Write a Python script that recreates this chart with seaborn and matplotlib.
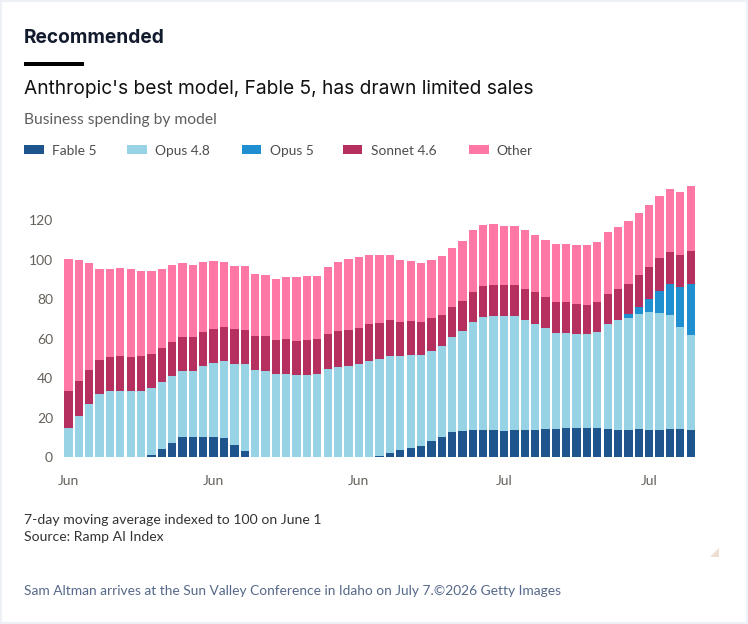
import numpy as np
import pandas as pd
import matplotlib
matplotlib.use("Agg")
import matplotlib.pyplot as plt
import seaborn as sns
from matplotlib.patches import Rectangle, Polygon

# ---------------- data ----------------
days = pd.date_range("2026-06-01", periods=61, freq="D")

fable5 = [0, 0, 0, 0, 0, 0, 0, 0, 0.8, 3.9,
          6.9, 10.0, 10.1, 10.1, 10.1, 9.5, 6.3, 3.2, 0, 0,
          0, 0, 0, 0, 0, 0, 0, 0, 0, 0,
          0.3, 2.0, 3.5, 4.7, 5.6, 7.9, 10.3, 12.7, 13.4, 13.9,
          13.9, 13.9, 13.4, 13.5, 13.5, 13.9, 14.0, 14.4, 14.5, 14.7,
          14.7, 14.5, 14.0, 13.9, 13.9, 14.2, 13.9, 13.9, 14.0, 14.0,
          13.9]
opus48 = [14.9, 20.8, 27.0, 31.9, 33.6, 33.6, 33.3, 33.6, 34.2, 34.0,
          34.0, 33.8, 33.7, 36.2, 37.6, 39.2, 41.0, 43.8, 44.1, 43.8,
          42.1, 42.3, 41.4, 41.6, 42.3, 44.4, 45.8, 46.1, 47.2, 48.8,
          49.4, 49.2, 47.7, 47.0, 46.1, 46.0, 46.1, 48.0, 50.5, 54.4,
          56.9, 57.4, 57.9, 58.2, 55.8, 53.7, 51.4, 48.3, 48.2, 47.7,
          47.5, 48.7, 53.3, 55.4, 56.7, 58.5, 59.4, 59.3, 58.2, 51.9,
          48.0]
opus5 = [0] * 54 + [1.7, 3.5, 7.0, 11.1, 15.7, 20.3, 26.0]
sonnet46 = [18.4, 17.7, 17.3, 17.1, 17.3, 17.6, 17.2, 17.4, 17.4, 17.4,
            17.4, 17.2, 17.2, 17.1, 17.2, 17.0, 17.4, 17.4, 17.4, 17.5,
            17.4, 17.5, 17.6, 17.7, 17.5, 18.1, 17.9, 18.1, 18.2, 18.5,
            18.4, 18.1, 17.2, 17.1, 16.7, 16.4, 15.8, 15.2, 15.2, 15.5,
            15.7, 15.7, 15.7, 15.7, 16.0, 16.1, 15.7, 15.7, 15.7, 15.2,
            15.0, 15.6, 15.3, 15.7, 15.6, 15.9, 16.2, 16.4, 16.0, 16.2,
            16.4]
other = [67.1, 61.2, 53.9, 46.5, 44.6, 44.6, 45.0, 43.5, 42.1, 40.2,
         38.9, 37.4, 36.3, 35.5, 34.5, 33.0, 32.3, 32.6, 31.5, 30.8,
         30.9, 31.3, 32.1, 32.5, 32.1, 33.7, 35.2, 36.2, 36.2, 35.3,
         34.2, 33.3, 31.6, 30.4, 29.8, 29.7, 29.9, 30.2, 30.4, 31.1,
         31.0, 31.0, 29.9, 29.5, 29.6, 29.0, 28.8, 29.4, 29.4, 29.7,
         30.1, 30.2, 31.6, 31.6, 31.6, 31.6, 31.4, 31.6, 32.1, 32.1,
         32.9]

series_names = ["Fable 5", "Opus 4.8", "Opus 5", "Sonnet 4.6", "Other"]
series_colors = ["#1f558d", "#97d3e5", "#1f8fd0", "#b5305e", "#ff77a5"]
y_ticks = [0, 20, 40, 60, 80, 100, 120]
tick_every = 14

# ---------------- figure ----------------
sns.set_theme(style="white")
plt.rcParams["font.family"] = ["Lato", "DejaVu Sans"]

W, H = 748, 624
fig = plt.figure(figsize=(W / 100, H / 100), dpi=100)
fig.patch.set_facecolor("#edf1f6")
fig.add_artist(Rectangle((2 / W, 2 / H), 744 / W, 620 / H, transform=fig.transFigure,
                         facecolor="white", edgecolor="none", zorder=0))

def fx(x):
    return x / W

def fy(y):
    return 1 - y / H

ax = fig.add_axes([fx(60), fy(457), 640 / W, (457 - 180.9) / H])
ax.set_facecolor("none")

stack = np.vstack([fable5, opus48, opus5, sonnet46, other])
cum = stack.cumsum(axis=0)
df = pd.DataFrame({"day": np.arange(len(days))})
for i, name in enumerate(series_names):
    df[name] = cum[i]

for i in reversed(range(len(series_names))):
    sns.barplot(data=df, x="day", y=series_names[i], color=series_colors[i],
                saturation=1, width=0.8, linewidth=0, errorbar=None, ax=ax)

ax.set_xlim(-0.815, 60.9)
ax.set_ylim(0, 140)
ax.set_yticks(y_ticks)
ax.set_yticklabels([str(v) for v in y_ticks])
tick_pos = list(range(0, len(days), tick_every))
ax.set_xticks(tick_pos)
ax.set_xticklabels([days[i].strftime("%b") for i in tick_pos])
ax.tick_params(length=0, labelsize=10, labelcolor="#66605a")
ax.tick_params(axis="y", pad=5)
ax.tick_params(axis="x", pad=13)
for s in ax.spines.values():
    s.set_visible(False)
ax.set_xlabel("")
ax.set_ylabel("")
ax.grid(False)

renderer = fig.canvas.get_renderer()

def T(x, y, s, size, target_w=None, **kw):
    t = fig.text(fx(x), fy(y), s, fontsize=size, va="baseline", ha="left", **kw)
    if target_w:
        w = t.get_window_extent(renderer).width
        t.set_fontsize(size * target_w / w)
    return t

T(24, 43.3, "Recommended", 15, 141, family=["Inter", "DejaVu Sans"],
  fontweight="bold", color="#121a2d")
fig.add_artist(Rectangle((fx(24), fy(65.5)), 60 / W, 3.5 / H, transform=fig.transFigure,
                         facecolor="black", edgecolor="none"))
T(24, 94, "Anthropic's best model, Fable 5, has drawn limited sales", 14, 510,
  family=["Inter", "DejaVu Sans"], color="#111111")
T(24, 124, "Business spending by model", 10.5, 194.6, color="#5e5e5e")

sq_x = [24.3, 127, 241.8, 342.9, 469]
leg_t = T(sq_x[0] + 27.7, 155, series_names[0], 10, 44.4, color="#4d4d4d")
leg_size = leg_t.get_fontsize()
for i, name in enumerate(series_names):
    fig.add_artist(Rectangle((fx(sq_x[i]), fy(154.3)), 19.5 / W, 9.3 / H,
                             transform=fig.transFigure, facecolor=series_colors[i],
                             edgecolor="none"))
    if i > 0:
        T(sq_x[i] + 27.7, 155, name, leg_size, color="#4d4d4d")

f1 = T(24, 524, "7-day moving average indexed to 100 on June 1", 10, 297, color="#333333")
T(24, 540.7, "Source: Ramp AI Index", f1.get_fontsize(), color="#333333")
T(24, 595, "Sam Altman arrives at the Sun Valley Conference in Idaho on July 7.\u00a92026 Getty Images",
  10, 533, color="#56698a")

fig.add_artist(Polygon([(fx(710), fy(556.7)), (fx(719), fy(556.7)), (fx(719), fy(547.7))],
                       closed=True, transform=fig.transFigure, facecolor="#efdfd0",
                       edgecolor="none"))

fig.savefig("out.png", dpi=100)
